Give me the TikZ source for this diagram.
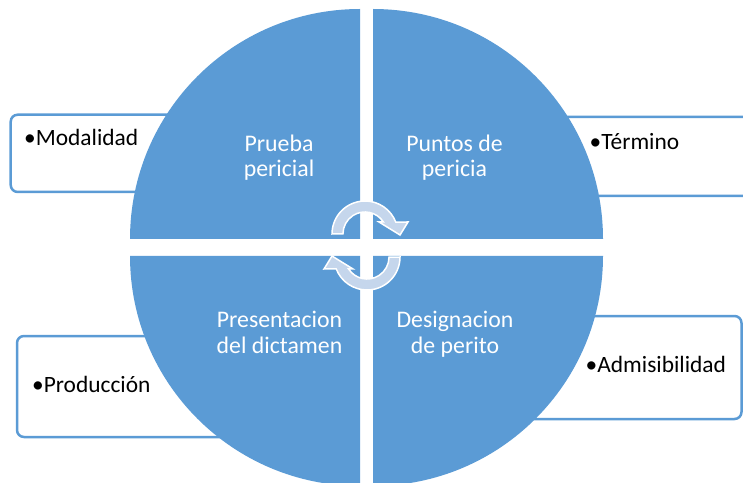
\documentclass[tikz,border=0pt]{standalone}
\usepackage{fontspec}
\setmainfont{Carlito}
\definecolor{qblue}{RGB}{91,155,213}
\definecolor{arrfill}{RGB}{197,214,236}
\begin{document}
\begin{tikzpicture}[x=1pt,y=1pt,
  quad/.style={fill=qblue,draw=none},
  sidebox/.style={draw=qblue,line width=2.5pt,fill=white,rounded corners=7pt},
  outtext/.style={inner sep=0pt,anchor=base west,text=black,font=\fontsize{23.4}{26}\selectfont},
  intext/.style={inner sep=0pt,anchor=base,text=white,font=\fontsize{23.8}{26}\selectfont},
  cyclearrow/.style={fill=arrfill,draw=white,line width=1.5pt,line join=miter}]
\useasboundingbox (0,0) rectangle (743,482);
\clip (0,0) rectangle (743,482);
% side boxes (behind the circle)
\draw[sidebox] (10.7,290) rectangle (250,367.3);
\draw[sidebox] (480,286) rectangle (775,365);
\draw[sidebox] (17,45) rectangle (250,146);
\draw[sidebox] (480,63) rectangle (741.5,166);
% quadrants
\fill[quad] (360,243) -- (130,243) arc[start angle=180,end angle=90,radius=230] -- cycle;
\fill[quad] (373,243) -- (373,473) arc[start angle=90,end angle=0,radius=230] -- cycle;
\fill[quad] (360,226) -- (130,226) arc[start angle=180,end angle=270,radius=230] -- cycle;
\fill[quad] (373,226) -- (603,226) arc[start angle=0,end angle=-90,radius=230] -- cycle;
% outer texts
\node[outtext] (mod) at (24,336.7) {•Modalidad};
\node[outtext] (ter) at (589.5,332) {•Término};
\node[outtext] (pro) at (32,89.3) {•Producción};
\node[outtext] (adm) at (585.5,109.3) {•Admisibilidad};
% inner texts
\node[intext] (pa) at (279,330) {Prueba};
\node[intext] (pb) at (279,305) {pericial};
\node[intext] (ua) at (454.5,330) {Puntos de};
\node[intext] (ub) at (454.5,305) {pericia};
\node[intext] (ra) at (279.5,155) {Presentacion};
\node[intext] (rb) at (279.5,129) {del dictamen};
\node[intext] (da) at (455,155) {Designacion};
\node[intext] (db) at (455,129) {de perito};
% cycle arrows
\def\arrowpath{(332,248) arc[start angle=180,end angle=21.3,radius=33] -- (408,260) -- (400,247) -- (379,260) -- (383.4,260) arc[start angle=33,end angle=180,radius=22] -- cycle}
\draw[cyclearrow] \arrowpath;
\draw[cyclearrow,rotate around={180:(366,236.5)}] \arrowpath;
\end{tikzpicture}
\end{document}
